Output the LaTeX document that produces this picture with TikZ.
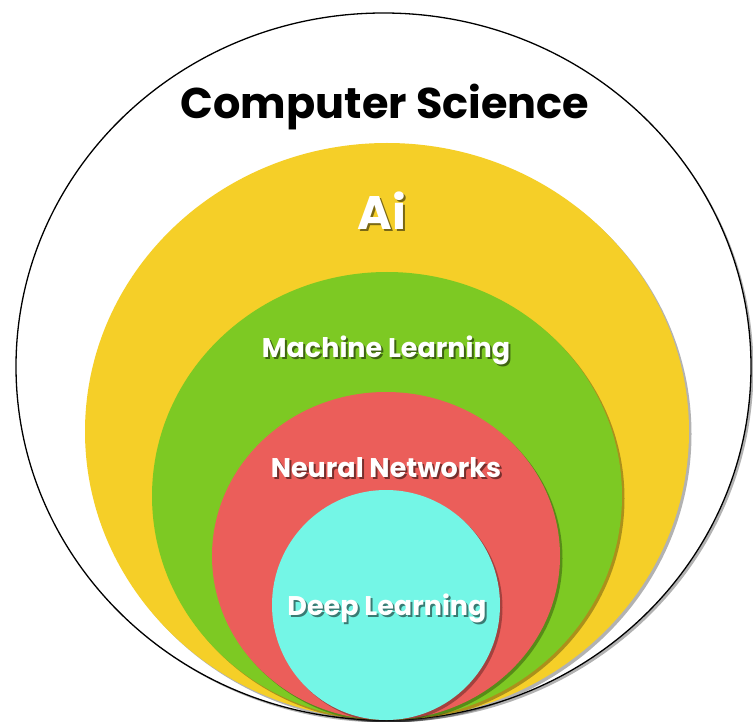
\documentclass[tikz,border=0pt]{standalone}
\usepackage{fontspec}
\setmainfont{Poppins}
\usetikzlibrary{shadows}
\definecolor{csyellow}{RGB}{245,207,40}
\definecolor{csgreen}{RGB}{125,201,35}
\definecolor{csred}{RGB}{235,94,90}
\definecolor{cscyan}{RGB}{116,246,230}
\newcommand{\withshadow}[2]{\makebox[0pt][l]{\kern2pt\raisebox{-2pt}{\textcolor{#1}{#2}}}#2}
\tikzset{
  layer/.style={drop shadow={shadow xshift=2.5pt,shadow yshift=-2.5pt,opacity=0.3,fill=black}},
  titlelbl/.style={font=\bfseries\fontsize{43}{46}\selectfont, text=black, inner sep=0pt, anchor=base},
  ailbl/.style={font=\bfseries\fontsize{47}{50}\selectfont, text=white, inner sep=0pt, anchor=base},
  lbl/.style={font=\bfseries\fontsize{27}{30}\selectfont, text=white, inner sep=0pt, anchor=base},
}
\begin{document}
\begin{tikzpicture}[x=1pt,y=-1pt]
\useasboundingbox (0,0) rectangle (753,722);
\fill[white] (0,0) rectangle (753,722);
% layers
\draw[line width=1.3pt, fill=white, layer] (383.5,366.5) ellipse [x radius=367.5pt, y radius=353.5pt];
\fill[csyellow, layer] (387,431.5) ellipse [x radius=302pt, y radius=288.5pt];
\fill[csgreen, layer] (387,496) ellipse [x radius=235pt, y radius=224pt];
\fill[csred, layer] (386,556) ellipse [x radius=174pt, y radius=164pt];
\fill[cscyan, layer] (386,605) ellipse [x radius=114pt, y radius=115pt];
% labels
\node[titlelbl] (cs) at (385,119) {Computer Science};
\node[ailbl] (ai) at (382,230) {\withshadow{csyellow!50!black}{Ai}};
\node[lbl] (ml) at (386,357) {\withshadow{csgreen!50!black}{Machine Learning}};
\node[lbl] (nn) at (386,477) {\withshadow{csred!50!black}{Neural Networks}};
\node[lbl] (dl) at (387,615) {\withshadow{cscyan!50!black}{Deep Learning}};
\end{tikzpicture}
\end{document}
